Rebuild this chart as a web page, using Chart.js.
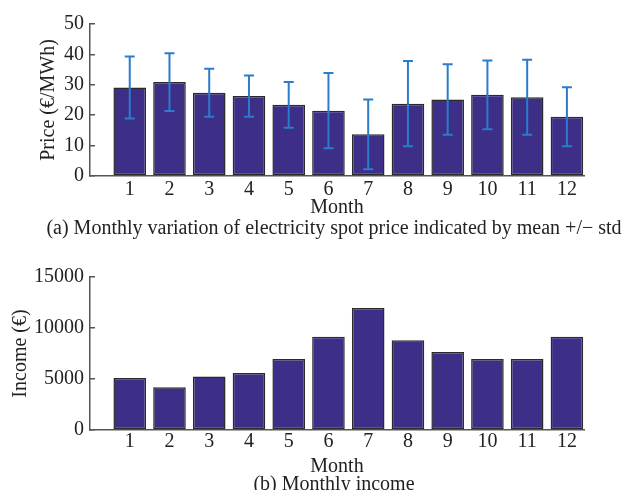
<!DOCTYPE html>
<html>
<head>
<meta charset="utf-8">
<script src="https://cdn.jsdelivr.net/npm/chart.js@4"></script>
<style>
  body { margin: 0; background: #fff; }
  #wrap { position: relative; width: 630px; height: 490px; font-family: 'Liberation Serif', serif; color: #222; }
  .box { position: absolute; left: 0; width: 630px; height: 245px; }
  .cap { position: absolute; left: 0; width: 668px; text-align: center; font-size: 20px; line-height: 1; white-space: nowrap; }
</style>
</head>
<body>
<div id="wrap">
  <div class="box" style="top:0"><canvas id="priceChart" width="630" height="245"></canvas></div>
  <div class="box" style="top:245px"><canvas id="incomeChart" width="630" height="245"></canvas></div>
  <div class="cap" style="top:217px">(a) Monthly variation of electricity spot price indicated by mean +/− std</div>
  <div class="cap" style="top:473px">(b) Monthly income</div>
</div>
<script>
const months = [1, 2, 3, 4, 5, 6, 7, 8, 9, 10, 11, 12];
const priceMean = [29.1, 30.9, 27.4, 26.3, 23.4, 21.5, 13.7, 23.8, 25.2, 26.7, 25.9, 19.5];
const priceStd = [10.2, 9.5, 7.9, 6.8, 7.5, 12.4, 11.5, 14.0, 11.6, 11.3, 12.3, 9.7];
const income = [5100, 4200, 5250, 5600, 6950, 9150, 11950, 8800, 7650, 6950, 6950, 9150];
const priceTicks = [0, 10, 20, 30, 40, 50];
const incomeTicks = [0, 5000, 10000, 15000];

const serif = 'Liberation Serif';
const barFill = '#3d2e88';
const barEdge = '#2a2a2a';
const axisColor = '#555';

// draws mean +/- std whiskers using the chart's own scales
const errorBars = {
  id: 'errorBars',
  afterDatasetsDraw(chart, args, opts) {
    if (!opts.mean) return;
    const { ctx, scales: { x, y } } = chart;
    ctx.save();
    ctx.strokeStyle = '#2b7ccc';
    ctx.lineWidth = 2;
    opts.mean.forEach((m, i) => {
      const px = x.getPixelForValue(months[i]);
      const lo = y.getPixelForValue(m - opts.std[i]);
      const hi = y.getPixelForValue(m + opts.std[i]);
      ctx.beginPath();
      ctx.moveTo(px, lo); ctx.lineTo(px, hi);
      ctx.moveTo(px - 5, lo); ctx.lineTo(px + 5, lo);
      ctx.moveTo(px - 5, hi); ctx.lineTo(px + 5, hi);
      ctx.stroke();
    });
    ctx.restore();
  }
};

function makeChart(id, values, yTicks, yTitle, opt) {
  return new Chart(document.getElementById(id), {
    type: 'bar',
    data: {
      datasets: [{
        data: months.map((m, i) => ({ x: m, y: values[i] })),
        backgroundColor: barFill,
        borderColor: barEdge,
        borderWidth: 1.5,
        borderSkipped: false,
        barPercentage: 0.82,
        categoryPercentage: 1
      }]
    },
    plugins: [errorBars],
    options: {
      responsive: false,
      animation: false,
      layout: { padding: { left: opt.padLeft, right: 46, top: opt.padTop, bottom: opt.padBottom } },
      plugins: {
        legend: { display: false },
        tooltip: { enabled: false },
        errorBars: opt.err || {}
      },
      scales: {
        x: {
          type: 'linear',
          offset: false,
          min: 0,
          max: 12.43,
          afterBuildTicks: s => { s.ticks = months.map(v => ({ value: v })); },
          afterFit: s => { s.height = opt.xHeight; },
          grid: { display: false, drawTicks: false },
          border: { color: axisColor, width: 1.5 },
          ticks: { color: '#222', padding: opt.xPad, font: { family: serif, size: 20 } },
          title: { display: true, text: 'Month', color: '#222', padding: 0, font: { family: serif, size: 20, lineHeight: 1 } }
        },
        y: {
          min: 0,
          max: yTicks[yTicks.length - 1],
          afterBuildTicks: s => { s.ticks = yTicks.map(v => ({ value: v })); },
          afterFit: s => { s.width = 90 - opt.padLeft; },
          grid: { drawOnChartArea: false, drawTicks: true, tickLength: -5, color: axisColor, lineWidth: 1.5 },
          border: { color: axisColor, width: 1.5 },
          ticks: { color: '#222', padding: 11, font: { family: serif, size: 20 }, callback: v => String(v) },
          title: { display: true, text: yTitle, color: '#222', padding: 0, font: { family: serif, size: 20, lineHeight: 1 } }
        }
      }
    }
  });
}

makeChart('priceChart', priceMean, priceTicks, 'Price (€/MWh)', {
  padLeft: 39, padTop: 24, padBottom: 27, xHeight: 42, xPad: 2,
  err: { mean: priceMean, std: priceStd }
});
makeChart('incomeChart', income, incomeTicks, 'Income (€)', {
  padLeft: 11, padTop: 32, padBottom: 13, xHeight: 47, xPad: 0
});
</script>
</body>
</html>
